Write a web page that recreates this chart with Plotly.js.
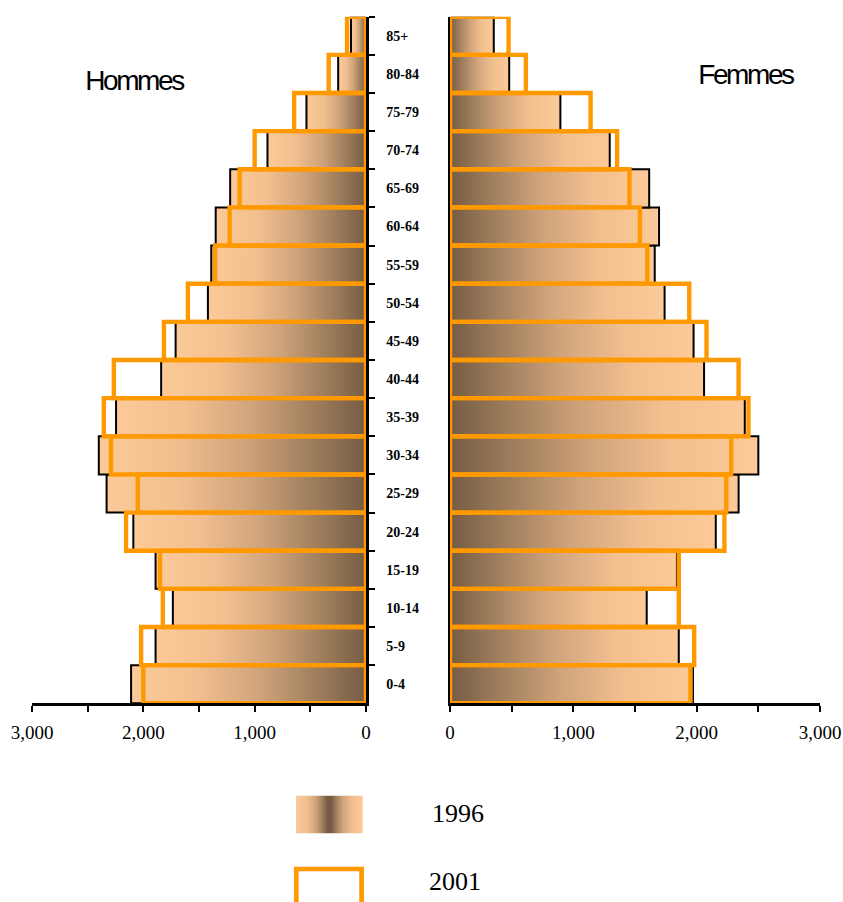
<!DOCTYPE html>
<html>
<head>
<meta charset="utf-8">
<script src="https://cdn.plot.ly/plotly-3.0.1.min.js"></script>
<style>html,body{margin:0;padding:0;background:#fff;}</style>
</head>
<body>
<div id="chart" style="width:843px;height:902px;"></div>
<script>
// ---- data (bottom to top) ----
const ageGroups = ['0-4','5-9','10-14','15-19','20-24','25-29','30-34','35-39','40-44','45-49','50-54','55-59','60-64','65-69','70-74','75-79','80-84','85+'];
const men1996   = [2110,1890,1735,1890,2090,2330,2400,2245,1840,1710,1420,1390,1350,1220,885,535,250,135];
const men2001   = [2000,2020,1825,1850,2155,2050,2290,2355,2265,1815,1600,1355,1225,1135,1000,645,335,170];
const women1996 = [1970,1855,1595,1840,2155,2340,2500,2390,2060,1975,1740,1660,1695,1615,1295,895,480,355];
const women2001 = [1950,1980,1855,1855,2225,2240,2280,2420,2340,2080,1940,1600,1540,1455,1355,1140,615,475];
const seriesNames = ['1996','2001'];
const panelTitles = ['Hommes','Femmes'];
const xTickFormat = ',';

// ---- styling ----
const W = 843, H = 902;
const px = v => v / W;
const py = v => 1 - v / H;
const ORANGE = '#FF9900';
const serif = 'Liberation Serif, Times New Roman, serif';
const sans = 'Liberation Sans, Arial, sans-serif';

const yDomain = [py(703.3), py(16.7)];

function barTrace(xv, xa, ya, is2001, name) {
  return {
    type: 'bar', orientation: 'h', name: name,
    x: xv, y: ageGroups, xaxis: xa, yaxis: ya,
    cliponaxis: false, hoverinfo: 'skip', showlegend: false,
    marker: is2001
      ? {color: 'rgba(0,0,0,0)', line: {color: ORANGE, width: 4.4}}
      : {color: '#D0A47C', line: {color: '#000', width: 2}}
  };
}

const data = [
  barTrace(men1996, 'x', 'y', false, seriesNames[0]),
  barTrace(men2001, 'x', 'y', true, seriesNames[1]),
  barTrace(women1996, 'x2', 'y2', false, seriesNames[0]),
  barTrace(women2001, 'x2', 'y2', true, seriesNames[1])
];

const xCommon = {
  showline: true, linecolor: '#000', linewidth: 2.5,
  ticks: 'outside', ticklen: 6, tickwidth: 2, tickcolor: '#000',
  tickmode: 'linear', tick0: 0, dtick: 1000, tickformat: xTickFormat,
  minor: {dtick: 500, tick0: 0, ticks: 'outside', ticklen: 6, tickwidth: 2, tickcolor: '#000', showgrid: false},
  showgrid: false, zeroline: false, automargin: false, fixedrange: true,
  tickfont: {family: serif, size: 19, color: '#000'},
  ticklabelstandoff: 4
};

const layout = {
  width: W, height: H,
  margin: {l: 0, r: 0, t: 0, b: 0, pad: 0},
  paper_bgcolor: '#fff', plot_bgcolor: 'rgba(0,0,0,0)',
  barmode: 'overlay', bargap: 0,
  showlegend: false,
  xaxis: Object.assign({}, xCommon, {domain: [px(32), px(366)], range: [3000, 0], autorange: false, anchor: 'y'}),
  xaxis2: Object.assign({}, xCommon, {domain: [px(450), px(820)], range: [0, 3000], autorange: false, anchor: 'y2'}),
  yaxis: {
    domain: yDomain, anchor: 'x', side: 'right', type: 'category',
    categoryorder: 'array', categoryarray: ageGroups,
    range: [-0.5, ageGroups.length - 0.5], autorange: false,
    showline: true, linecolor: '#000', linewidth: 2.5,
    ticks: 'outside', tickson: 'boundaries', ticklen: 6, tickwidth: 2, tickcolor: '#000',
    tickfont: {family: serif, size: 14, color: '#000', weight: 'bold'},
    ticklabelstandoff: 15,
    showgrid: false, zeroline: false, automargin: false, fixedrange: true
  },
  yaxis2: {
    domain: yDomain, anchor: 'x2', side: 'left', type: 'category',
    categoryorder: 'array', categoryarray: ageGroups,
    range: [-0.5, ageGroups.length - 0.5], autorange: false,
    showline: true, linecolor: '#000', linewidth: 2.5,
    ticks: '', showticklabels: false,
    showgrid: false, zeroline: false, automargin: false, fixedrange: true
  },
  annotations: [
    {text: panelTitles[0], xref: 'paper', yref: 'paper', x: px(134), y: py(80), xanchor: 'center', yanchor: 'middle', showarrow: false, font: {family: sans, size: 28, color: '#000'}},
    {text: panelTitles[1], xref: 'paper', yref: 'paper', x: px(745), y: py(75), xanchor: 'center', yanchor: 'middle', showarrow: false, font: {family: sans, size: 28, color: '#000'}},
    {text: seriesNames[0], xref: 'paper', yref: 'paper', x: px(458), y: py(813), xanchor: 'center', yanchor: 'middle', showarrow: false, font: {family: serif, size: 26, color: '#000'}},
    {text: seriesNames[1], xref: 'paper', yref: 'paper', x: px(455), y: py(881), xanchor: 'center', yanchor: 'middle', showarrow: false, font: {family: serif, size: 26, color: '#000'}}
  ],
  shapes: [
    {type: 'rect', xref: 'paper', yref: 'paper', x0: px(296), x1: px(362.7), y0: py(833.3), y1: py(795.7), fillcolor: '#D0A47C', line: {width: 0}},
    {type: 'rect', xref: 'paper', yref: 'paper', x0: px(296.3), x1: px(361.6), y0: -0.05, y1: py(869), fillcolor: 'rgba(0,0,0,0)', line: {color: ORANGE, width: 4.7}}
  ]
};

const gd = document.getElementById('chart');

function makeGrad(defs, id, stops) {
  if (defs.querySelector('#' + id)) return;
  const ns = 'http://www.w3.org/2000/svg';
  const g = document.createElementNS(ns, 'linearGradient');
  g.setAttribute('id', id);
  g.setAttribute('x1', '0'); g.setAttribute('y1', '0');
  g.setAttribute('x2', '1'); g.setAttribute('y2', '0');
  stops.forEach(s => {
    const st = document.createElementNS(ns, 'stop');
    st.setAttribute('offset', s[0]);
    st.setAttribute('stop-color', s[1]);
    g.appendChild(st);
  });
  defs.appendChild(g);
}

function decorate() {
  const svg = gd.querySelector('.main-svg');
  if (!svg) return;
  let defs = svg.querySelector('defs');
  if (!defs) { defs = document.createElementNS('http://www.w3.org/2000/svg', 'defs'); svg.insertBefore(defs, svg.firstChild); }
  const L = '#FCCA98', L2 = '#F2BF8F', M = '#CFA37B', D2 = '#9D7D5C', D = '#765C44';
  makeGrad(defs, 'gradLeft', [[0, L], [0.28, L2], [0.55, M], [0.8, D2], [1, D]]);
  makeGrad(defs, 'gradRight', [[0, D], [0.2, D2], [0.45, M], [0.72, L2], [1, L]]);
  makeGrad(defs, 'gradLegend', [[0, L], [0.16, L2], [0.3, M], [0.4, D2], [0.47, D], [0.53, D], [0.6, D2], [0.7, M], [0.84, L2], [1, L]]);

  const leftTr = gd.querySelectorAll('.subplot.xy .barlayer g.trace');
  const rightTr = gd.querySelectorAll('.subplot.x2y2 .barlayer g.trace');
  if (leftTr[0]) leftTr[0].querySelectorAll('path').forEach(p => p.style.fill = 'url(#gradLeft)');
  if (rightTr[0]) rightTr[0].querySelectorAll('path').forEach(p => p.style.fill = 'url(#gradRight)');

  const shp = gd.querySelectorAll('.shapelayer path');
  if (shp[0]) shp[0].style.fill = 'url(#gradLegend)';

  const ann = gd.querySelectorAll('.annotation-text');
  for (let i = 0; i < 2 && i < ann.length; i++) ann[i].style.letterSpacing = '-2.4px';
}

Plotly.newPlot(gd, data, layout, {staticPlot: true, displayModeBar: false}).then(() => {
  decorate();
  gd.on('plotly_afterplot', decorate);
});
</script>
</body>
</html>
